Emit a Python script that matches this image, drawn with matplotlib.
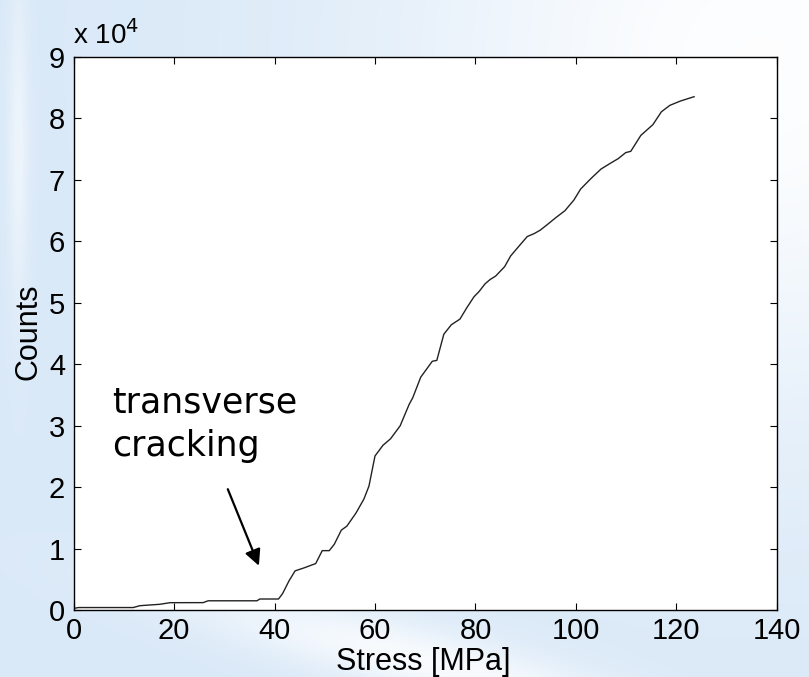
import numpy as np
import matplotlib
matplotlib.use("Agg")
import matplotlib.pyplot as plt

# Acoustic emission counts vs applied stress
stress = [0.0, 1.0, 11.9, 13.2, 17.2, 19.2, 25.8, 26.8, 36.5, 37.1, 40.8,
          41.6, 42.9, 44.1, 45.9, 48.2, 49.5, 50.9, 51.9, 53.3, 54.4, 56.2,
          57.8, 58.8, 60.0, 61.6, 63.1, 65.0, 66.8, 67.5, 69.1, 71.4, 72.3,
          73.7, 75.2, 76.9, 78.3, 79.7, 80.7, 81.9, 82.9, 84.0, 85.8, 87.0,
          88.6, 90.3, 91.7, 92.9, 94.2, 96.1, 97.8, 99.6, 100.9, 103.0, 105.0,
          107.1, 108.4, 109.9, 110.9, 112.9, 115.3, 117.0, 118.7, 120.8, 123.5]
counts = [250, 400, 400, 700, 930, 1190, 1200, 1500, 1500, 1790, 1790,
          2660, 4760, 6370, 6860, 7560, 9660, 9660, 10700, 13000, 13650, 15760,
          18070, 20170, 25070, 26820, 27870, 29970, 33470, 34520, 37890, 40480, 40620,
          44890, 46430, 47340, 49230, 50980, 51820, 53080, 53780, 54340, 55880, 57630,
          59170, 60780, 61270, 61830, 62670, 63930, 64990, 66740, 68490, 70240, 71780,
          72830, 73460, 74440, 74650, 77240, 78990, 81090, 82140, 82840, 83540]

x_ticks = [0, 20, 40, 60, 80, 100, 120, 140]
y_ticks = [0, 1, 2, 3, 4, 5, 6, 7, 8, 9]

W, H = 809, 677
fig = plt.figure(figsize=(W / 100, H / 100), dpi=100)

# pale blue slide backdrop with soft white sweeps
py, px = np.mgrid[0:H, 0:W].astype(float)
base = np.array([0.855, 0.914, 0.972])
glow = np.exp(-((px - 760) ** 2 + (py - 60) ** 2) / (2 * 260.0 ** 2))
sweep = np.exp(-(((py - 660) - 0.25 * (px - 420)) / 35.0) ** 2) * \
    np.exp(-((px - 420) / 230.0) ** 2)
streak = np.exp(-((px - 18) / 10.0) ** 2) * np.exp(-((py - 150) / 160.0) ** 2) * 0.5
white = np.clip(glow * 0.95 + sweep * 0.8 + streak, 0, 1)
img = base[None, None, :] * (1 - white[..., None]) + white[..., None]
bg = fig.add_axes([0, 0, 1, 1], zorder=-10)
bg.imshow(img, aspect="auto", extent=[0, 1, 0, 1], origin="upper")
bg.axis("off")

ax = fig.add_axes([73.5 / W, 1 - 610 / H, (777 - 73.5) / W, (610 - 57) / H])
ax.set_facecolor("white")
ax.plot(stress, np.array(counts) / 1e4, color="#222222", lw=1.0)

ax.set_xlim(0, 140)
ax.set_ylim(0, 9)
ax.set_xticks(x_ticks)
ax.set_yticks(y_ticks)
ax.set_xticklabels([str(t) for t in x_ticks])
ax.set_yticklabels([str(t) for t in y_ticks])
ax.tick_params(direction="in", length=5, width=0.8, top=True, right=True,
               labelsize=21)
ax.tick_params(axis="x", pad=5)
ax.tick_params(axis="y", pad=6)
for lab in ax.get_xticklabels() + ax.get_yticklabels():
    lab.set_family("Liberation Sans")
for s in ax.spines.values():
    s.set_linewidth(1.0)

fig.text(423 / W, 1 - 670 / H, "Stress [MPa]", fontsize=22, family="Liberation Sans",
         ha="center", va="baseline")
fig.text(29 / W, 1 - 332 / H, "Counts", fontsize=22, family="Liberation Sans",
         ha="center", va="center", rotation=90)

fig.text(73 / W, 1 - 44 / H, r"x 10$^{4}$", fontsize=20, family="Liberation Sans",
         ha="left", va="baseline")

ax.text(7.6, 3.213, "transverse", fontsize=25, family="DejaVu Sans", ha="left", va="baseline")
ax.text(7.6, 2.508, "cracking", fontsize=25, family="DejaVu Sans", ha="left", va="baseline")
ax.annotate("", xy=(37.1, 0.679), xytext=(30.5, 2.008),
            arrowprops=dict(arrowstyle="-|>", color="black", lw=1.6,
                            mutation_scale=24))

fig.savefig("out.png", dpi=100)
